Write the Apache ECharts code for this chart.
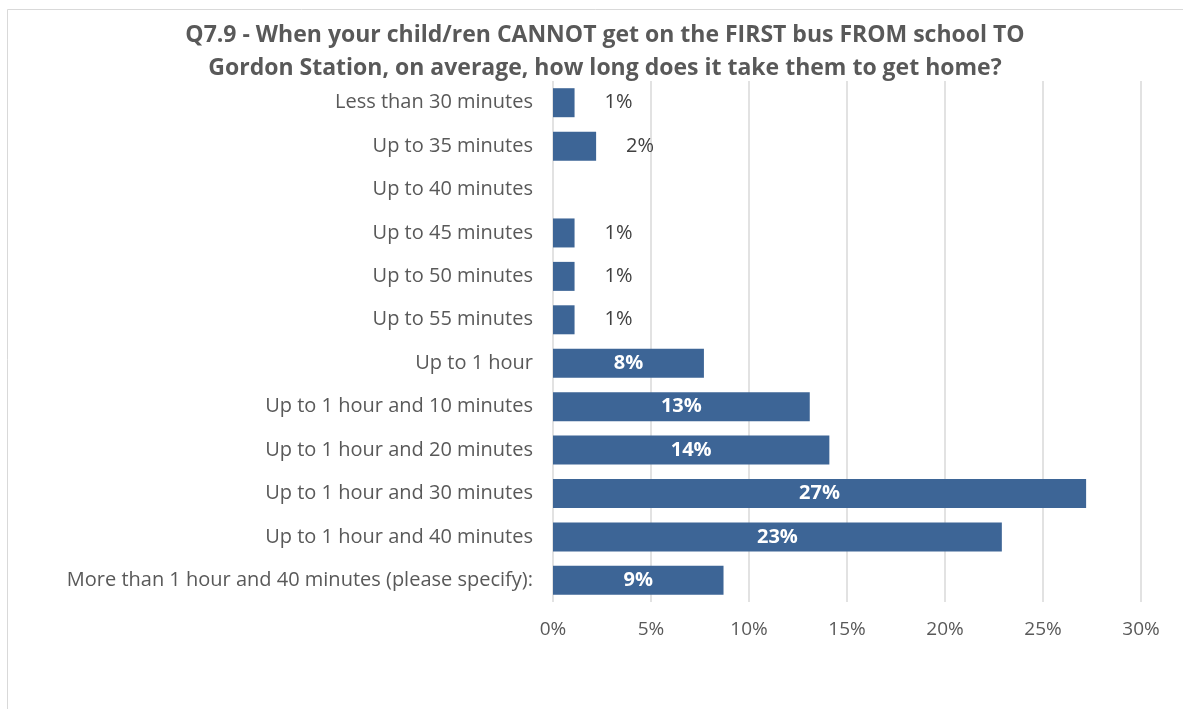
<!DOCTYPE html>
<html>
<head>
<meta charset="utf-8">
<script src="https://cdn.jsdelivr.net/npm/echarts@6/dist/echarts.min.js"></script>
<style>
	html, body { margin: 0; padding: 0; background: #fff; }
	#chart { width: 1183px; height: 709px; }
</style>
</head>
<body>
<div id="chart"></div>
<script>
const categories = [
	'Less than 30 minutes',
	'Up to 35 minutes',
	'Up to 40 minutes',
	'Up to 45 minutes',
	'Up to 50 minutes',
	'Up to 55 minutes',
	'Up to 1 hour',
	'Up to 1 hour and 10 minutes',
	'Up to 1 hour and 20 minutes',
	'Up to 1 hour and 30 minutes',
	'Up to 1 hour and 40 minutes',
	'More than 1 hour and 40 minutes (please specify):'
];
const values = [1.1, 2.2, 0, 1.1, 1.1, 1.1, 7.7, 13.1, 14.1, 27.2, 22.9, 8.7];
const tickValues = [0, 5, 10, 15, 20, 25, 30];

const FONT = 'Open Sans';
const myChart = echarts.init(document.getElementById('chart'));

// big bars get a white label inside, small ones a dark label to the right
const barData = values.map((v) => {
	const inside = v >= 5;
	return {
		value: v,
		label: inside ? {
			position: 'inside',
			color: '#ffffff',
			fontWeight: 'bold'
		} : {
			position: 'right',
			distance: 30,
			color: '#404040',
			fontWeight: 'normal'
		}
	};
});

const option = {
	animation: false,
	backgroundColor: '#ffffff',
	title: {
		text: 'Q7.9 - When your child/ren CANNOT get on the FIRST bus FROM school TO\nGordon Station, on average, how long does it take them to get home?',
		left: 600,
		top: 14,
		textAlign: 'center',
		textStyle: {
			fontFamily: FONT,
			fontSize: 23,
			fontWeight: 'bold',
			color: '#595959',
			lineHeight: 33
		}
	},
	graphic: [{
		type: 'rect',
		shape: { x: 7.5, y: 9.5, width: 1200, height: 720 },
		style: { fill: 'none', stroke: '#d9d9d9', lineWidth: 1 },
		silent: true
	}],
	grid: {
		left: 553,
		right: 42,
		top: 81,
		bottom: 107
	},
	xAxis: {
		type: 'value',
		min: 0,
		max: 30,
		interval: 5,
		axisLine: { show: false },
		axisTick: { show: false },
		splitLine: { lineStyle: { color: '#d9d9d9', width: 1.5 } },
		axisLabel: {
			margin: 18,
			fontFamily: FONT,
			fontSize: 19,
			color: '#595959',
			formatter: (v) => tickValues.includes(v) ? v + '%' : ''
		}
	},
	yAxis: {
		type: 'category',
		inverse: true,
		data: categories,
		axisLine: { show: false },
		axisTick: { show: false },
		axisLabel: {
			margin: 20,
			fontFamily: FONT,
			fontSize: 20,
			color: '#595959'
		}
	},
	series: [{
		type: 'bar',
		data: barData,
		barWidth: 29,
		itemStyle: { color: '#3d6596' },
		label: {
			show: true,
			fontFamily: FONT,
			fontSize: 20,
			formatter: (p) => p.value > 0 ? Math.round(p.value) + '%' : ''
		}
	}]
};

myChart.setOption(option);
</script>
</body>
</html>
